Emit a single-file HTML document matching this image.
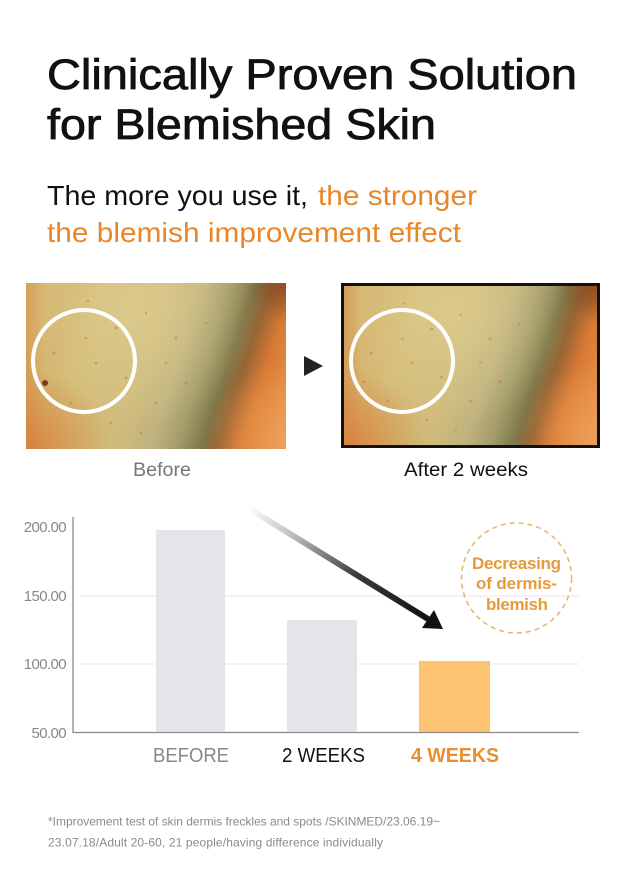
<!DOCTYPE html>
<html>
<head>
<meta charset="utf-8">
<style>
html,body{margin:0;padding:0;background:#fff;}
body{width:628px;height:879px;overflow:hidden;}
svg{display:block;}
text{font-family:"Liberation Sans",Arial,sans-serif;}
</style>
</head>
<body>
<svg width="628" height="879" viewBox="0 0 628 879" xmlns="http://www.w3.org/2000/svg">
<defs>
  <linearGradient id="skinBase" gradientUnits="userSpaceOnUse" x1="40" y1="20" x2="290" y2="103">
    <stop offset="0" stop-color="#d4b570"/>
    <stop offset="0.12" stop-color="#d4bc78"/>
    <stop offset="0.36" stop-color="#cfbb7c"/>
    <stop offset="0.48" stop-color="#bfb27e"/>
    <stop offset="0.58" stop-color="#a09a68"/>
    <stop offset="0.66" stop-color="#7f7748"/>
    <stop offset="0.72" stop-color="#9a6535"/>
    <stop offset="0.80" stop-color="#d87a34"/>
    <stop offset="1" stop-color="#f0a058"/>
  </linearGradient>
  <radialGradient id="blOrange" gradientUnits="userSpaceOnUse" cx="5" cy="166" r="80">
    <stop offset="0" stop-color="#d8742e" stop-opacity="0.75"/>
    <stop offset="1" stop-color="#d8742e" stop-opacity="0"/>
  </radialGradient>
  <linearGradient id="leftEdge" gradientUnits="userSpaceOnUse" x1="0" y1="0" x2="18" y2="0">
    <stop offset="0" stop-color="#d7803a" stop-opacity="0.45"/>
    <stop offset="1" stop-color="#d7803a" stop-opacity="0"/>
  </linearGradient>
  <radialGradient id="tlLight" gradientUnits="userSpaceOnUse" cx="110" cy="25" r="120">
    <stop offset="0" stop-color="#e2d398" stop-opacity="0.6"/>
    <stop offset="1" stop-color="#e2d398" stop-opacity="0"/>
  </radialGradient>
  <radialGradient id="trDark" gradientUnits="userSpaceOnUse" cx="262" cy="0" r="40">
    <stop offset="0" stop-color="#7a3a1c" stop-opacity="0.7"/>
    <stop offset="1" stop-color="#7a3a1c" stop-opacity="0"/>
  </radialGradient>
  <radialGradient id="brOrange" gradientUnits="userSpaceOnUse" cx="255" cy="150" r="70">
    <stop offset="0" stop-color="#f2a45c" stop-opacity="0.6"/>
    <stop offset="1" stop-color="#f2a45c" stop-opacity="0"/>
  </radialGradient>
  <g id="skin">
    <rect x="0" y="0" width="260" height="166" fill="url(#skinBase)"/>
    <rect x="0" y="0" width="260" height="166" fill="url(#tlLight)"/>
    <rect x="0" y="0" width="260" height="166" fill="url(#blOrange)"/>
    <rect x="0" y="0" width="260" height="166" fill="url(#leftEdge)"/>
    <rect x="0" y="0" width="260" height="166" fill="url(#trDark)"/>
    <rect x="0" y="0" width="260" height="166" fill="url(#brOrange)"/>
    <g fill="#d2773a" opacity="0.55">
      <circle cx="40" cy="30" r="1.5"/><circle cx="62" cy="18" r="1.3"/><circle cx="90" cy="45" r="1.6"/>
      <circle cx="120" cy="30" r="1.2"/><circle cx="150" cy="55" r="1.5"/><circle cx="70" cy="80" r="1.4"/>
      <circle cx="100" cy="95" r="1.5"/><circle cx="130" cy="120" r="1.3"/><circle cx="160" cy="100" r="1.6"/>
      <circle cx="45" cy="120" r="1.5"/><circle cx="85" cy="140" r="1.4"/><circle cx="115" cy="150" r="1.2"/>
      <circle cx="180" cy="40" r="1.3"/><circle cx="28" cy="70" r="1.5"/><circle cx="140" cy="80" r="1.2"/>
      <circle cx="60" cy="55" r="1.3"/><circle cx="175" cy="135" r="1.4"/><circle cx="20" cy="100" r="1.5"/>
    </g>
  </g>
  <linearGradient id="arrowGrad" gradientUnits="userSpaceOnUse" x1="248" y1="508" x2="430" y2="620">
    <stop offset="0" stop-color="#ffffff"/>
    <stop offset="0.25" stop-color="#bdbdbd"/>
    <stop offset="0.6" stop-color="#3a3a3a"/>
    <stop offset="1" stop-color="#111111"/>
  </linearGradient>
</defs>

<!-- Title -->
<text x="47" y="89" font-size="43" fill="#111" stroke="#111" stroke-width="0.8" textLength="530" lengthAdjust="spacingAndGlyphs">Clinically Proven Solution</text>
<text x="47" y="139" font-size="43" fill="#111" stroke="#111" stroke-width="0.8" textLength="389" lengthAdjust="spacingAndGlyphs">for Blemished Skin</text>

<!-- Subtitle -->
<text x="47" y="205" font-size="28" fill="#111" textLength="261" lengthAdjust="spacingAndGlyphs">The more you use it,</text>
<text x="318" y="205" font-size="28" fill="#e8872a" textLength="159" lengthAdjust="spacingAndGlyphs">the stronger</text>
<text x="47" y="242" font-size="28" fill="#e8872a" textLength="414" lengthAdjust="spacingAndGlyphs">the blemish improvement effect</text>

<!-- Before image -->
<g transform="translate(26,283)"><use href="#skin"/></g>
<circle cx="84" cy="361" r="51" fill="none" stroke="#fff" stroke-width="4"/>
<circle cx="45" cy="383" r="3" fill="#5a2412" opacity="0.8"/>

<!-- Triangle -->
<polygon points="304,356 304,376 323,366" fill="#222"/>

<!-- After image -->
<rect x="341" y="283" width="259" height="165" fill="#111"/>
<g transform="translate(344,286) scale(0.973,0.958)"><use href="#skin"/></g>
<circle cx="402" cy="361" r="51" fill="none" stroke="#fff" stroke-width="4"/>

<!-- Captions -->
<text x="133" y="476" font-size="19" fill="#777" textLength="58" lengthAdjust="spacingAndGlyphs">Before</text>
<text x="404" y="476" font-size="19" fill="#111" textLength="124" lengthAdjust="spacingAndGlyphs">After 2 weeks</text>

<!-- Chart gridlines -->
<line x1="80" y1="596" x2="579" y2="596" stroke="#ececec" stroke-width="1.2"/>
<line x1="80" y1="664" x2="579" y2="664" stroke="#ececec" stroke-width="1.2"/>

<!-- Bars -->
<rect x="156" y="530" width="69" height="203" fill="#e3e5ea"/>
<rect x="287" y="620" width="70" height="113" fill="#e3e5ea"/>
<rect x="419" y="661" width="71" height="72" fill="#fcc470"/>

<!-- Axes -->
<line x1="73" y1="517" x2="73" y2="733" stroke="#8a8a8a" stroke-width="1.3"/>
<line x1="73" y1="732.5" x2="579" y2="732.5" stroke="#8a8a8a" stroke-width="1.3"/>

<!-- Tick labels -->
<text x="66" y="532" font-size="15" fill="#888" text-anchor="end" letter-spacing="-0.6">200.00</text>
<text x="66" y="601" font-size="15" fill="#888" text-anchor="end" letter-spacing="-0.6">150.00</text>
<text x="66" y="669" font-size="15" fill="#888" text-anchor="end" letter-spacing="-0.6">100.00</text>
<text x="66" y="738" font-size="15" fill="#888" text-anchor="end" letter-spacing="-0.6">50.00</text>

<!-- Arrow -->
<line x1="248" y1="508" x2="428" y2="619" stroke="url(#arrowGrad)" stroke-width="6"/>
<polygon points="443,629 422,628 434,610" fill="#111"/>

<!-- Dashed circle -->
<circle cx="516.5" cy="578" r="55" fill="none" stroke="#e1b46e" stroke-width="1.5" stroke-dasharray="5 4"/>
<text x="472" y="569" font-size="17" font-weight="bold" fill="#e69a3a" textLength="89" lengthAdjust="spacing">Decreasing</text>
<text x="476" y="589" font-size="17" font-weight="bold" fill="#e69a3a" textLength="81" lengthAdjust="spacing">of dermis-</text>
<text x="486" y="610" font-size="17" font-weight="bold" fill="#e69a3a" textLength="62" lengthAdjust="spacing">blemish</text>

<!-- X labels -->
<text x="153" y="762" font-size="20.5" fill="#888" textLength="76" lengthAdjust="spacingAndGlyphs">BEFORE</text>
<text x="282" y="762" font-size="20.5" fill="#111" textLength="83" lengthAdjust="spacingAndGlyphs">2 WEEKS</text>
<text x="411" y="762" font-size="20.5" font-weight="bold" fill="#e8902e" textLength="88" lengthAdjust="spacingAndGlyphs">4 WEEKS</text>

<!-- Footnote -->
<text x="48" y="825.5" font-size="12" fill="#8a8a8a" textLength="392" lengthAdjust="spacing">*Improvement test of skin dermis freckles and spots /SKINMED/23.06.19~</text>
<text x="48" y="846.5" font-size="12" fill="#8a8a8a" textLength="335" lengthAdjust="spacing">23.07.18/Adult 20-60, 21 people/having difference individually</text>
</svg>
</body>
</html>
